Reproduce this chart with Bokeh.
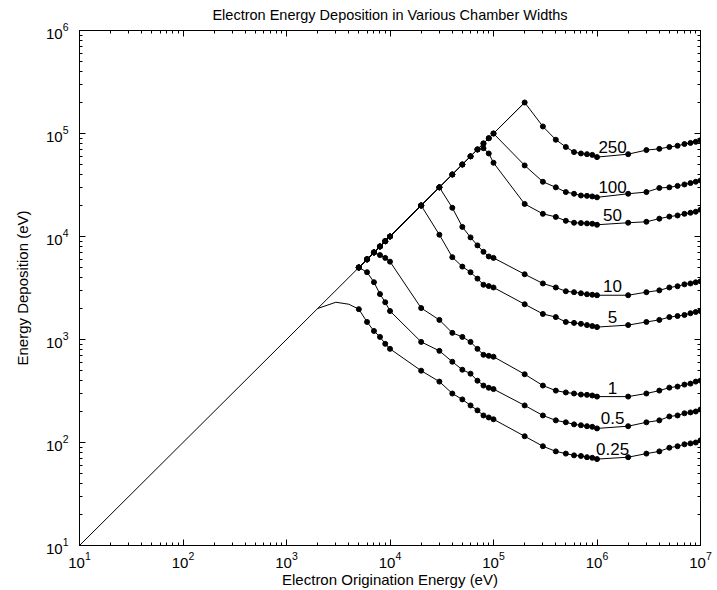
from bokeh.plotting import figure
from bokeh.models import LogAxis, FixedTicker
from bokeh.embed import file_html
from bokeh.resources import INLINE
from bokeh.core.properties import value

# ---------------- data ----------------
energy = [5e3, 6e3, 7e3, 8e3, 9e3,
          1e4, 2e4, 3e4, 4e4, 5e4, 6e4, 7e4, 8e4, 9e4,
          1e5, 2e5, 3e5, 4e5, 5e5, 6e5, 7e5, 8e5, 9e5,
          1e6, 2e6, 3e6, 4e6, 5e6, 6e6, 7e6, 8e6, 9e6, 1e7]

widths = ["250", "100", "50", "10", "5", "1", "0.5", "0.25"]

dep_250 = [5e3, 6e3, 7e3, 8e3, 9e3, 1e4, 2e4, 3e4, 4e4, 5e4, 6e4, 7e4, 8e4, 9e4, 1e5, 2e5,
           1.17e5, 8.7e4, 7.4e4, 6.6e4, 6.4e4, 6.3e4, 6.2e4, 5.9e4,
           6.3e4, 6.9e4, 7.1e4, 7.4e4, 7.6e4, 7.9e4, 8.1e4, 8.3e4, 8.6e4]
dep_100 = [5e3, 6e3, 7e3, 8e3, 9e3, 1e4, 2e4, 3e4, 4e4, 5e4, 6e4, 7e4, 8e4, 9e4, 1e5,
           4.9e4, 3.4e4, 3.0e4, 2.7e4, 2.6e4, 2.5e4, 2.48e4, 2.45e4, 2.4e4,
           2.6e4, 2.7e4, 2.96e4, 3.0e4, 3.1e4, 3.2e4, 3.3e4, 3.4e4, 3.5e4]
dep_50 = [5e3, 6e3, 7e3, 8e3, 9e3, 1e4, 2e4, 3e4, 4e4, 5e4, 6e4, 7e4,
          7.2e4, 6.4e4, 5.2e4,
          2.07e4, 1.66e4, 1.55e4, 1.42e4, 1.36e4, 1.35e4, 1.34e4, 1.33e4, 1.3e4,
          1.36e4, 1.39e4, 1.49e4, 1.56e4, 1.6e4, 1.66e4, 1.7e4, 1.74e4, 1.82e4]
dep_10 = [5e3, 6e3, 7e3, 8e3, 9e3, 1e4, 2e4, 3e4,
          1.9e4, 1.24e4, 9.8e3, 8.2e3, 7.1e3, 6.4e3, 6.2e3,
          4.3e3, 3.5e3, 3.2e3, 2.94e3, 2.88e3, 2.81e3, 2.75e3, 2.72e3, 2.69e3,
          2.69e3, 2.88e3, 3.0e3, 3.2e3, 3.29e3, 3.43e3, 3.5e3, 3.59e3, 3.67e3]
dep_5 = [5e3, 6e3, 7e3, 8e3, 9e3, 1e4, 2e4,
         1.04e4, 6.3e3, 5.1e3, 4.5e3, 3.9e3, 3.4e3, 3.3e3, 3.2e3,
         2.2e3, 1.77e3, 1.65e3, 1.48e3, 1.45e3, 1.42e3, 1.38e3, 1.35e3, 1.32e3,
         1.38e3, 1.48e3, 1.55e3, 1.65e3, 1.69e3, 1.73e3, 1.8e3, 1.85e3, 1.89e3]
dep_1 = [5e3, 6e3, 7e3, 6.6e3, 6.2e3, 5.7e3,
         2.02e3, 1.55e3, 1.16e3, 1.06e3, 948, 811, 710, 694, 680,
         460, 357, 319, 306, 299, 292, 290, 286, 279,
         279, 299, 319, 341, 349, 365, 373, 390, 399]
dep_05 = [5e3, 4.5e3, 3.6e3, 2.76e3, 2.3e3, 1.89e3,
          948, 776, 608, 509, 466, 398, 357, 340, 330,
          229, 183, 164, 157, 150, 147, 144, 142, 137,
          144, 157, 164, 179, 183, 192, 196, 200, 209]
dep_025 = [1.97e3, 1.48e3, 1.21e3, 1.06e3, 907, 811,
           498, 390, 299, 262, 229, 205, 183, 175, 168,
           115, 92, 82, 78, 75, 74, 72, 71, 69,
           72, 78, 82, 89, 92, 96, 98, 100, 105]

# unmarked start of the 0.25 curve (hump off the diagonal)
hump_energy = [2e3, 3e3, 4e3]
hump_dep = [2e3, 2.3e3, 2.2e3]

# full-absorption diagonal
diag_energy = [10, 2e5]
diag_dep = [10, 2e5]

curves = [dep_250, dep_100, dep_50, dep_10, dep_5, dep_1, dep_05, dep_025]

x_major = [10 ** k for k in range(1, 8)]
y_major = [10 ** k for k in range(1, 7)]

# ---------------- figure ----------------
FONT = "Liberation Sans"
p = figure(width=717, height=590, x_axis_type="log", y_axis_type="log",
           x_range=(10, 1e7), y_range=(10, 1e6),
           output_backend="svg", toolbar_location=None,
           min_border_left=79, min_border_right=17, min_border_top=29, min_border_bottom=42)

p.title.text = "Electron Energy Deposition in Various Chamber Widths"
p.title.align = "center"
p.title.vertical_align = "top"
p.title.text_font = FONT
p.title.text_font_size = "14.5px"
p.title.text_font_style = "normal"
p.title.text_color = "black"
p.title.standoff = 12

p.xgrid.visible = False
p.ygrid.visible = False
p.outline_line_color = "black"
p.outline_line_width = 1
p.background_fill_color = "white"
p.border_fill_color = "white"

xt = FixedTicker(ticks=x_major, minor_ticks=[m * 10 ** k for k in range(1, 7) for m in range(2, 10)])
yt = FixedTicker(ticks=y_major, minor_ticks=[m * 10 ** k for k in range(1, 6) for m in range(2, 10)])

def style_axis(ax, ticker, labels=True):
    ax.ticker = ticker
    ax.major_tick_in = 6
    ax.major_tick_out = 0
    ax.minor_tick_in = 3
    ax.minor_tick_out = 0
    ax.axis_line_color = "black"
    ax.major_tick_line_color = "black"
    ax.minor_tick_line_color = "black"
    ax.major_label_text_font = FONT
    ax.major_label_text_font_size = "15px"
    if labels:
        ax.major_label_text_color = "black"
        ax.axis_label_text_font = FONT
        ax.axis_label_text_font_size = "15px"
        ax.axis_label_text_font_style = "normal"
        ax.axis_label_text_color = "black"
    else:
        ax.major_label_text_alpha = 0.0
        ax.major_label_text_font_size = "2px"
        ax.major_label_standoff = 0

style_axis(p.xaxis[0], xt)
style_axis(p.yaxis[0], yt)
p.xaxis[0].axis_label = "Electron Origination Energy (eV)"
p.yaxis[0].axis_label = "Energy Deposition (eV)"
p.xaxis[0].major_label_standoff = 6
p.xaxis[0].axis_label_standoff = 0
p.yaxis[0].major_label_standoff = 11
p.yaxis[0].axis_label_standoff = 12

top_ax = LogAxis()
style_axis(top_ax, xt, labels=False)
p.add_layout(top_ax, "above")
right_ax = LogAxis()
style_axis(right_ax, yt, labels=False)
p.add_layout(right_ax, "right")

# ---------------- glyphs ----------------
p.line(diag_energy, diag_dep, line_color="black", line_width=1)
for name, dep in zip(widths, curves):
    if name == "0.25":
        p.line(hump_energy + energy, hump_dep + dep, line_color="black", line_width=1)
    else:
        p.line(energy, dep, line_color="black", line_width=1)
    p.scatter(energy, dep, size=5, marker="circle", fill_color="black", line_color="black")

# contour-style labels sitting on each curve between 1e6 and 2e6
i1 = energy.index(1e6)
label_x = [(energy[i1] * energy[i1 + 1]) ** 0.5] * len(widths)
label_y = [(dep[i1] * dep[i1 + 1]) ** 0.5 for dep in curves]
p.text(x=label_x, y=label_y, text=widths, text_align="center", text_baseline="bottom",
       y_offset=-3, text_font=value(FONT), text_font_size="17px", text_color="black")

open("out.html", "w").write(file_html(p, INLINE))
